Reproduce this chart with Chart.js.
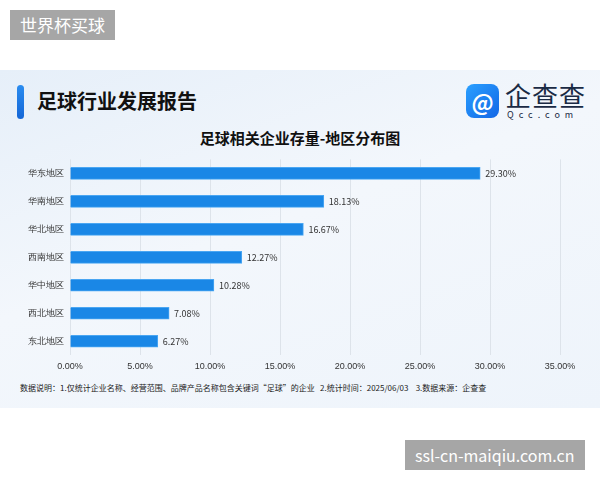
<!DOCTYPE html>
<html>
<head>
<meta charset="utf-8">
<script src="https://cdn.jsdelivr.net/npm/chart.js@4"></script>
<style>
  body { margin: 0; background: #fff; font-family: "Noto Sans CJK SC", "Noto Sans", sans-serif; }
  #wrap { position: relative; width: 600px; height: 480px; overflow: hidden; background: #fff; }
  #card { position: absolute; left: 0; top: 70px; width: 600px; height: 338px;
          background: linear-gradient(160deg, #e6eff9 0%, #f3f7fc 45%, #eef4fb 100%); }
  .wm { position: absolute; background: #a6a6a6; color: #fff; font-size: 17px; line-height: 30px; padding: 0 10px; }
  #hbar { position: absolute; left: 17px; top: 85px; width: 7px; height: 34px; border-radius: 4px;
          background: linear-gradient(#2a8cf0, #1466d6); }
  #head { position: absolute; left: 37px; top: 86px; font-size: 20px; font-weight: bold; color: #111; }
  #logo { position: absolute; left: 466px; top: 84px; width: 33px; height: 34px; border-radius: 8px;
          background: linear-gradient(135deg, #2aa0ff, #1266e6); color: #fff; font-size: 22px; font-weight: bold;
          text-align: center; line-height: 34px; }
  #brand { position: absolute; left: 505px; top: 80px; font-size: 26px; color: #1a2a44; line-height: 30px; letter-spacing: 1px; }
  #brand2 { position: absolute; left: 507px; top: 108px; font-size: 9px; color: #1a2a44; letter-spacing: 5px; }
  #ctitle { position: absolute; left: 0; width: 600px; top: 127px; text-align: center; font-size: 15px; font-weight: bold; color: #111; }
  #cv { position: absolute; left: 0; top: 148px; }
  #note { position: absolute; left: 20px; top: 382px; font-size: 8px; color: #222; white-space: pre; }
</style>
</head>
<body>
<div id="wrap">
  <div class="wm" style="left:10px;top:10px;">世界杯买球</div>
  <div id="card"></div>
  <div id="hbar"></div>
  <div id="head">足球行业发展报告</div>
  <div id="logo">@</div>
  <div id="brand">企查查</div>
  <div id="brand2">Qcc.com</div>
  <div id="ctitle">足球相关企业存量-地区分布图</div>
  <canvas id="cv" width="600" height="230"></canvas>
  <div id="note">数据说明：1.仅统计企业名称、经营范围、品牌产品名称包含关键词“足球”的企业   2.统计时间：2025/06/03    3.数据来源：企查查</div>
  <div class="wm" style="left:405px;top:440px;font-size:16px;">ssl-cn-maiqiu.com.cn</div>
</div>
<script>
// 地区与占比
const regions = ['华东地区', '华南地区', '华北地区', '西南地区', '华中地区', '西北地区', '东北地区'];
const shares = [29.30, 18.13, 16.67, 12.27, 10.28, 7.08, 6.27];
const xMax = 35;

// 柱子末端的数值
const valueLabels = {
    id: 'valueLabels',
    afterDatasetsDraw(chart) {
        const ctx = chart.ctx;
        ctx.save();
        ctx.font = '9px "Noto Sans CJK SC", sans-serif';
        ctx.fillStyle = '#333';
        ctx.textBaseline = 'middle';
        chart.getDatasetMeta(0).data.forEach((bar, i) => {
            ctx.fillText(shares[i].toFixed(2) + '%', bar.x + 5, bar.y);
        });
        ctx.restore();
    }
};

new Chart(document.getElementById('cv'), {
    type: 'bar',
    data: {
        labels: regions,
        datasets: [{
            data: shares,
            backgroundColor: '#1a87e6',
            borderColor: '#4aa6f2',
            borderWidth: 1,
            barThickness: 12
        }]
    },
    options: {
        indexAxis: 'y',
        responsive: false,
        animation: false,
        layout: { padding: { top: 4, right: 40, left: 0, bottom: 0 } },
        plugins: { legend: { display: false }, tooltip: { enabled: false } },
        scales: {
            x: {
                min: 0, max: xMax,
                ticks: {
                    stepSize: 5,
                    color: '#333',
                    font: { size: 9 },
                    padding: 6,
                    callback: v => v.toFixed(2) + '%'
                },
                grid: { color: '#dde3ea', drawTicks: false },
                border: { display: false }
            },
            y: {
                afterFit: s => { s.width = 70; },
                ticks: { color: '#333', font: { size: 9 }, padding: 6 },
                grid: { display: false, drawTicks: false },
                border: { display: false }
            }
        }
    },
    plugins: [valueLabels]
});
</script>
</body>
</html>
